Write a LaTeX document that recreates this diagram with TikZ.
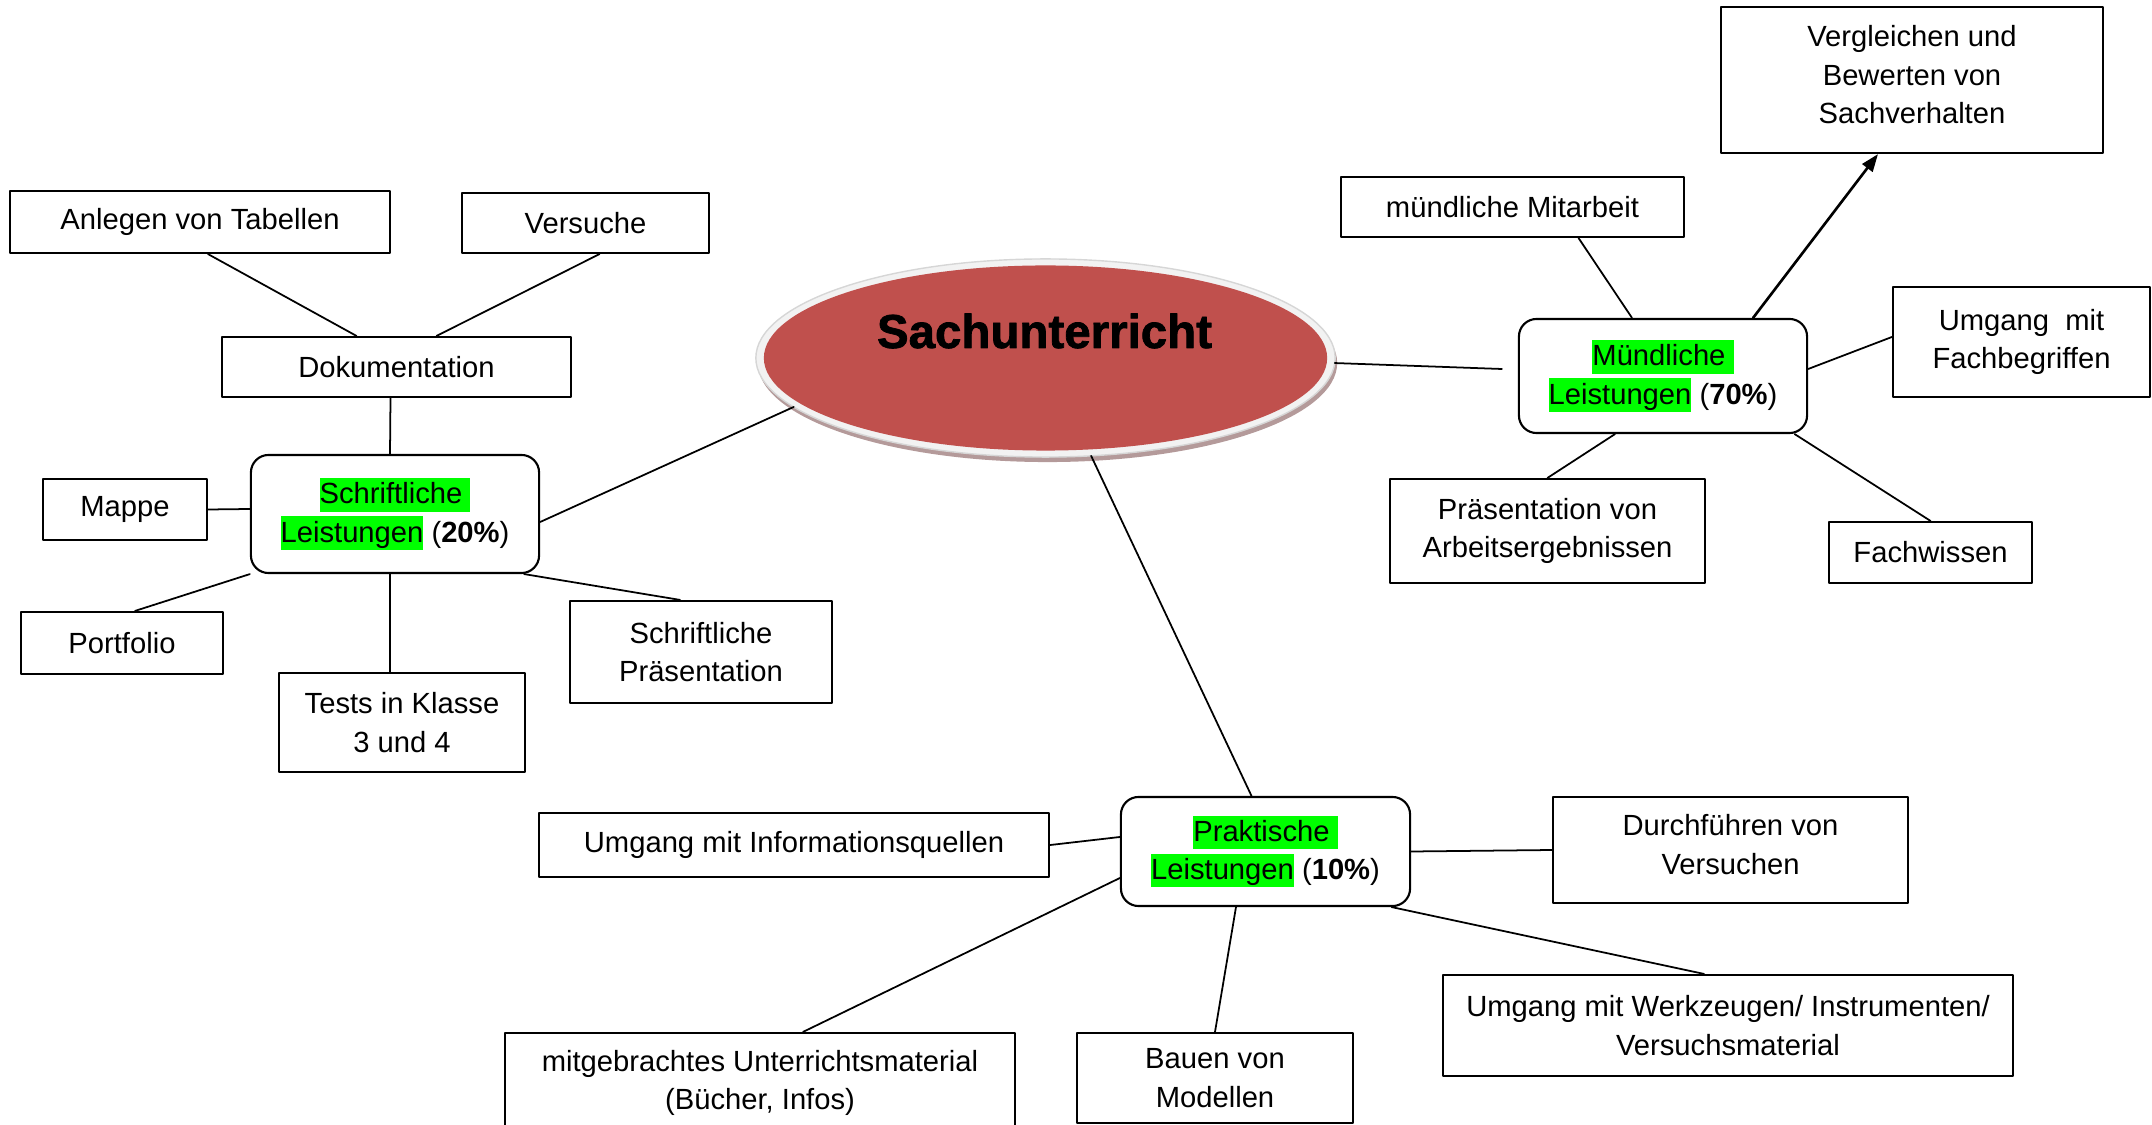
\documentclass[tikz,border=0pt]{standalone}
\usepackage{fontspec}
\setmainfont{Liberation Sans}
\newfontfamily\dickschrift[FakeBold=1.6]{Liberation Sans Bold}
\usetikzlibrary{arrows.meta}
\usetikzlibrary{shapes.geometric}

\definecolor{sachrot}{HTML}{C0504D}
\definecolor{randgrau}{HTML}{F2F2F2}
\definecolor{randlinie}{HTML}{D6D6D6}
\definecolor{schattenrot}{HTML}{B49A9A}
\definecolor{markgruen}{HTML}{00FF00}

\newcommand{\markiert}[1]{{\setlength{\fboxsep}{0pt}\colorbox{markgruen}{\rule[-2.2pt]{0pt}{9.5pt}#1}}}

\tikzset{
  kasten/.style={draw=black, line width=0.6pt, align=center, inner sep=0pt, font=\fontsize{8.3}{10.9}\selectfont},
  leistung/.style={kasten, rounded corners=5pt},
  verbindung/.style={line width=0.5pt, color=black}
}

\begin{document}
\begin{tikzpicture}[line cap=round,line join=round,>={Triangle[length=5pt,width=3.6pt]},x=0.01cm,y=-0.01cm]
        \useasboundingbox (0,0) rectangle (2152,1125);
        \clip (0,0) rectangle (2152,1125);
        \fill [schattenrot] (1047.5,363) ellipse [x radius=2.895cm, y radius=0.99cm];
        \node [ellipse, fill=randgrau, draw=randlinie, line width=0.4pt, minimum width=5.79cm, minimum height=1.98cm, inner sep=0pt, outer sep=0pt] (sach) at (1045.5,358) {};
        \fill [sachrot] (sach.center) ellipse [x radius=2.815cm, y radius=0.925cm];
        \node [font=\fontsize{13.5}{16}\dickschrift] (titel) at (1044.5,331) {Sachunterricht};

        \node [kasten, minimum width=3.80cm, minimum height=0.62cm] (tabellen) at (200,222) {Anlegen von Tabellen};
        \node [kasten, minimum width=2.47cm, minimum height=0.60cm] (versuche) at (585.5,223) {Versuche};
        \node [kasten, minimum width=3.49cm, minimum height=0.60cm] (doku) at (396.5,367) {Dokumentation};
        \node [leistung, minimum width=2.88cm, minimum height=1.18cm] (schriftlich) at (395,514) {\markiert{Schriftliche\ }\\\markiert{Leistungen} (\textbf{20\%})};
        \node [kasten, minimum width=1.64cm, minimum height=0.61cm] (mappe) at (125,509.5) {Mappe};
        \node [kasten, minimum width=2.02cm, minimum height=0.62cm] (portfolio) at (122,643) {Portfolio};
        \node [kasten, minimum width=2.46cm, minimum height=0.99cm] (tests) at (402,722.5) {Tests in Klasse\\3 und 4};
        \node [kasten, minimum width=2.62cm, minimum height=1.02cm] (praesentation) at (701,652) {Schriftliche\\Präsentation};

        \node [kasten, minimum width=3.43cm, minimum height=0.60cm] (mitarbeit) at (1512.5,207) {mündliche Mitarbeit};
        \node [leistung, minimum width=2.88cm, minimum height=1.14cm] (muendlich) at (1663,376) {\markiert{Mündliche\ }\\\markiert{Leistungen} (\textbf{70\%})};
        \node [kasten, minimum width=3.82cm, minimum height=1.46cm] (vergleichen) at (1912,80) {Vergleichen und\\Bewerten von\\Sachverhalten\\[-7.8pt]};
        \node [kasten, minimum width=2.57cm, minimum height=1.10cm] (fachbegriffe) at (2021.5,342) {Umgang\ \ mit\\Fachbegriffen};
        \node [kasten, minimum width=3.15cm, minimum height=1.04cm] (ergebnisse) at (1547.5,531) {Präsentation von\\Arbeitsergebnissen};
        \node [kasten, minimum width=2.03cm, minimum height=0.61cm] (fachwissen) at (1930.5,552.5) {Fachwissen};

        \node [leistung, minimum width=2.89cm, minimum height=1.09cm] (praktisch) at (1265.5,851.5) {\markiert{Praktische\ }\\\markiert{Leistungen} (\textbf{10\%})};
        \node [kasten, minimum width=5.10cm, minimum height=0.64cm] (quellen) at (794,845) {Umgang mit Informationsquellen};
        \node [kasten, minimum width=5.10cm, minimum height=1.00cm] (material) at (760,1083) {mitgebrachtes Unterrichtsmaterial\\(Bücher, Infos)};
        \node [kasten, minimum width=2.76cm, minimum height=0.90cm] (modelle) at (1215,1078) {Bauen von\\Modellen};
        \node [kasten, minimum width=3.55cm, minimum height=1.06cm] (durchfuehren) at (1730.5,850) {Durchführen von\\Versuchen\\[-7.8pt]};
        \node [kasten, minimum width=5.70cm, minimum height=1.01cm] (werkzeuge) at (1728,1025.5) {Umgang mit Werkzeugen/ Instrumenten/\\Versuchsmaterial};

        \draw [verbindung] ([xshift=0.08cm]tabellen.south) -- ([xshift=-0.40cm]doku.north);
        \draw [verbindung] ([xshift=0.14cm]versuche.south) -- ([xshift=0.40cm]doku.north);
        \draw [verbindung] ([xshift=-0.06cm]doku.south) -- ([xshift=-0.05cm]schriftlich.north);
        \draw [verbindung] (mappe.east) -- ([yshift=0.05cm]schriftlich.west);
        \draw [verbindung] (schriftlich.south west) -- ([xshift=0.13cm]portfolio.north);
        \draw [verbindung] ([xshift=-0.05cm]schriftlich.south) -- ([xshift=-0.12cm]tests.north);
        \draw [verbindung] ([xshift=-0.16cm]schriftlich.south east) -- ([xshift=-0.21cm]praesentation.north);
        \draw [verbindung] ([yshift=-0.08cm]schriftlich.east) -- (sach.191.3);

        \draw [verbindung] (sach.-1) -- ([xshift=-0.16cm,yshift=0.07cm]muendlich.west);
        \draw [verbindung] ([xshift=0.66cm]mitarbeit.south) -- ([xshift=-0.31cm]muendlich.north);
        \draw [->, line width=0.75pt, color=black] ([xshift=0.90cm]muendlich.north) -- ([xshift=-0.34cm]vergleichen.south);
        \draw [verbindung] ([yshift=0.07cm]muendlich.east) -- ([yshift=0.05cm]fachbegriffe.west);
        \draw [verbindung] ([xshift=-0.48cm]muendlich.south) -- (ergebnisse.north);
        \draw [verbindung] ([xshift=-0.135cm]muendlich.south east) -- (fachwissen.north);

        \draw [verbindung] (sach.-65.4) -- ([xshift=-0.14cm]praktisch.north);
        \draw [verbindung] (quellen.east) -- ([yshift=0.145cm]praktisch.west);
        \draw [verbindung] ([yshift=-0.265cm]praktisch.west) -- ([xshift=0.43cm]material.north);
        \draw [verbindung] ([xshift=-0.295cm]praktisch.south) -- (modelle.north);
        \draw [verbindung] (praktisch.east) -- (durchfuehren.west);
        \draw [verbindung] ([xshift=-0.195cm]praktisch.south east) -- ([xshift=-0.24cm]werkzeuge.north);
\end{tikzpicture}
\end{document}
